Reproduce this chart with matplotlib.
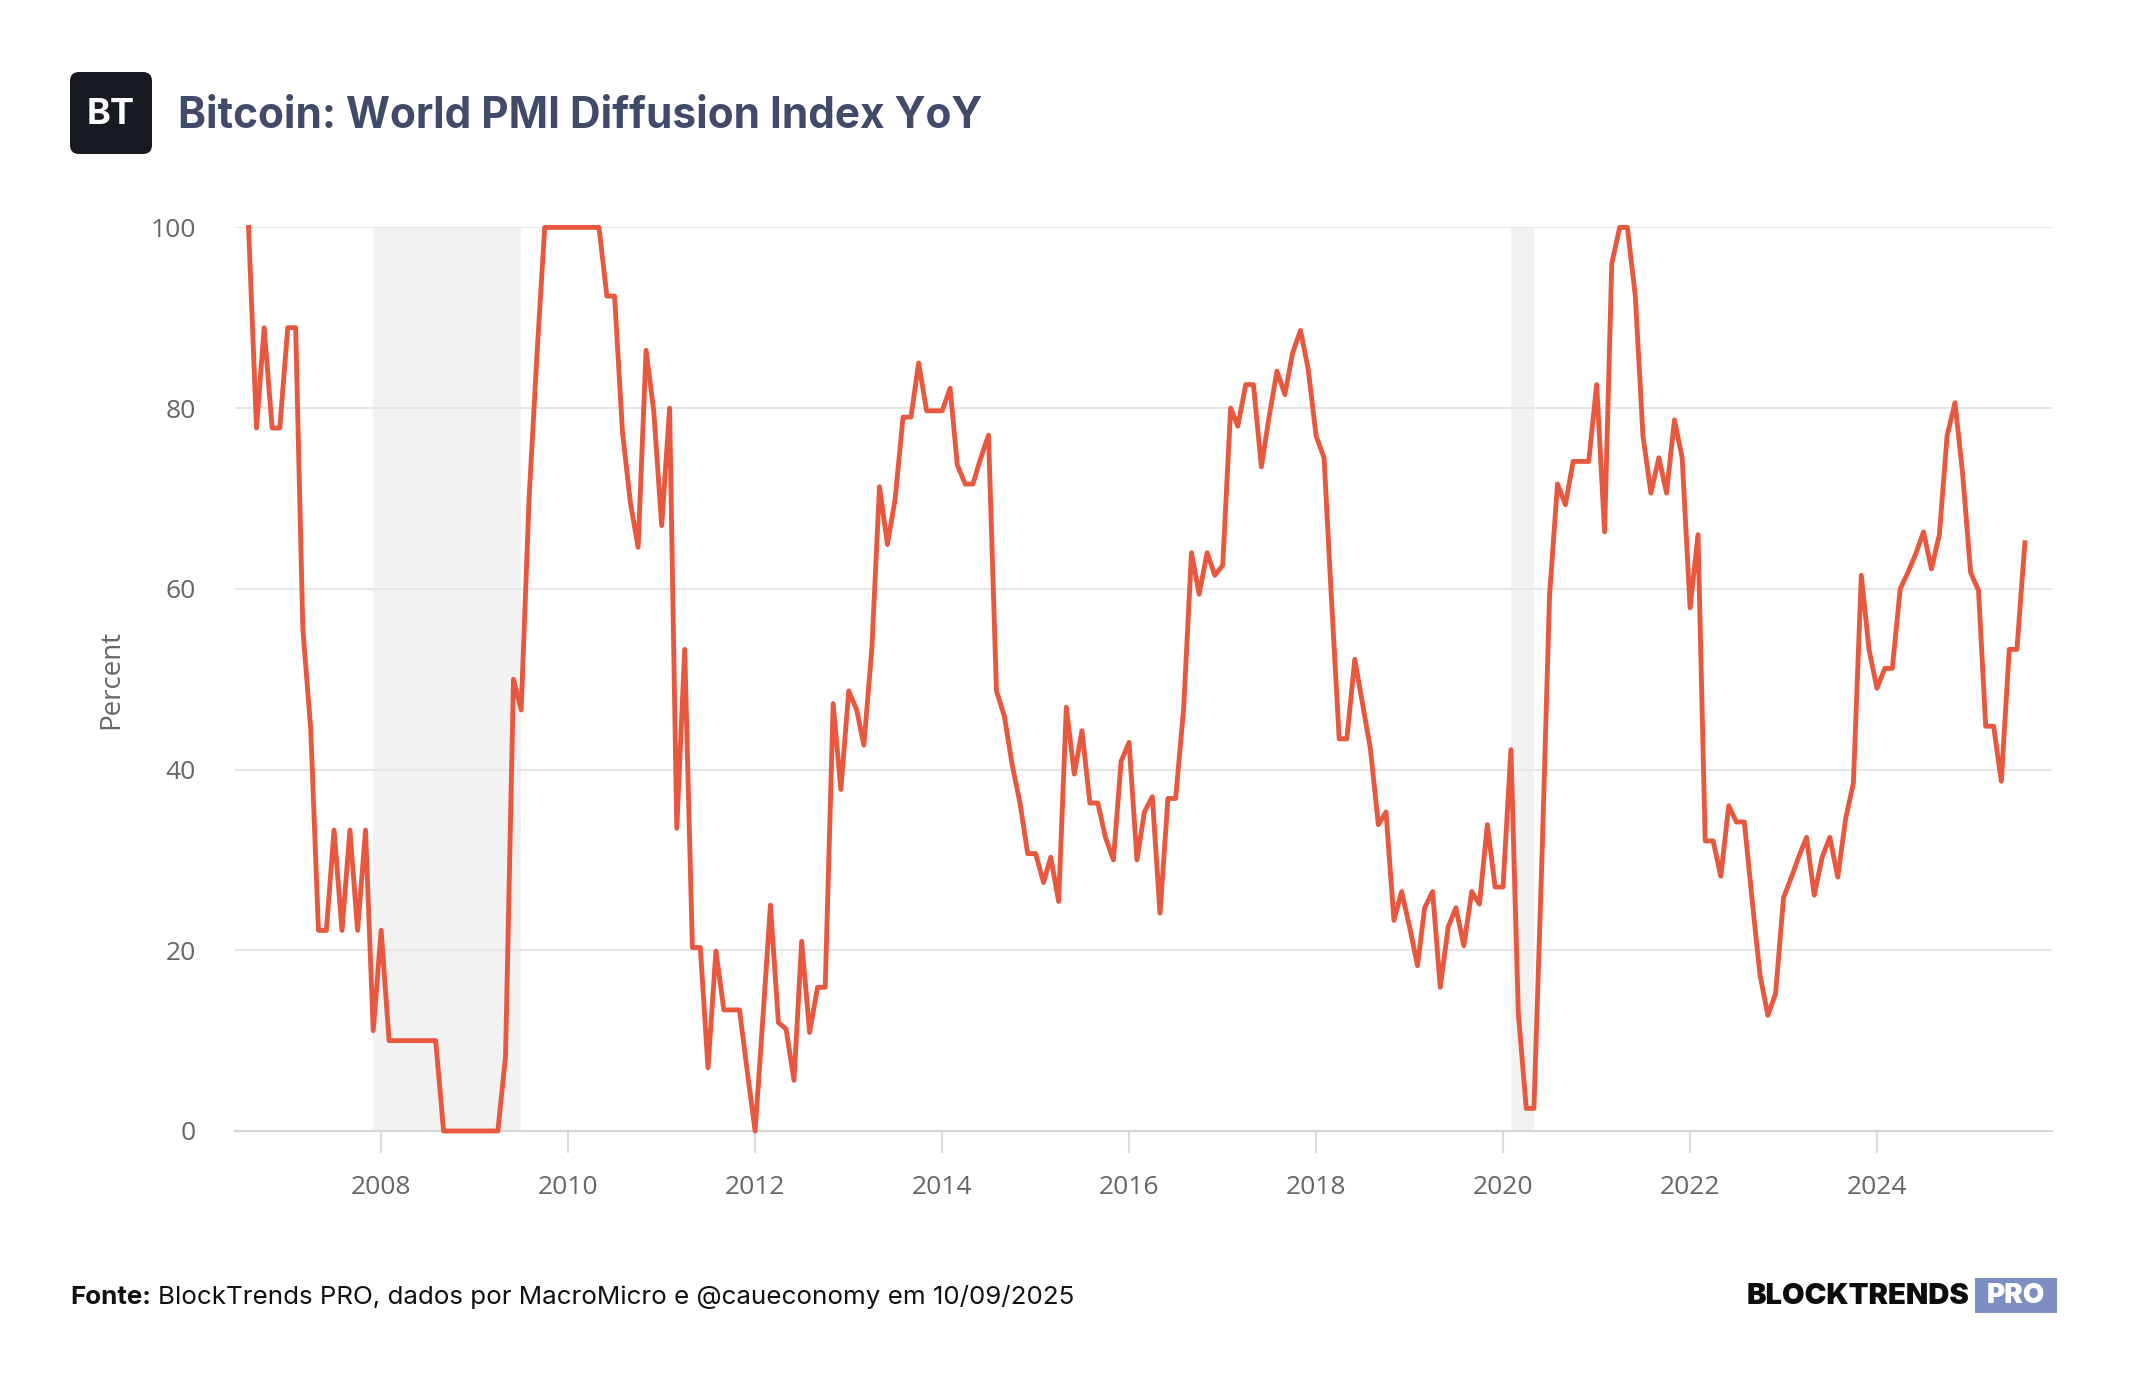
import matplotlib
matplotlib.use('Agg')
import matplotlib.pyplot as plt
import matplotlib.dates as mdates
from matplotlib.patches import FancyBboxPatch, Rectangle
import pandas as pd

# World PMI diffusion index YoY (percent), monthly from Aug 2006 to Aug 2025
start_month = '2006-08-01'
pmi_yoy = [
    100, 77.8, 88.9, 77.8, 77.8, 88.9, 88.9, 55.6, 44.4, 22.2,
    22.2, 33.3, 22.2, 33.3, 22.2, 33.3, 11.1, 22.2, 10, 10,
    10, 10, 10, 10, 10, 0, 0, 0, 0, 0,
    0, 0, 0, 8.3, 50, 46.6, 70, 86, 100, 100,
    100, 100, 100, 100, 100, 100, 92.4, 92.4, 77.3, 69.5,
    64.6, 86.4, 79.7, 67, 80, 33.5, 53.3, 20.3, 20.3, 7,
    19.9, 13.4, 13.4, 13.4, 6.7, 0, 12.7, 25, 12, 11.3,
    5.6, 21, 10.9, 15.9, 15.9, 47.3, 37.8, 48.7, 46.6, 42.7,
    53.3, 71.3, 64.9, 69.9, 79, 79, 85, 79.7, 79.7, 79.7,
    82.2, 73.7, 71.6, 71.6, 74.5, 77, 48.7, 45.9, 40.6, 36.3,
    30.7, 30.7, 27.5, 30.3, 25.4, 46.9, 39.5, 44.3, 36.3, 36.3,
    32.5, 30, 40.9, 43, 30, 35.3, 37, 24.1, 36.8, 36.8,
    46.6, 64, 59.4, 64, 61.5, 62.6, 80, 78, 82.6, 82.6,
    73.5, 79, 84.1, 81.5, 86.1, 88.6, 84.3, 76.9, 74.5, 59.3,
    43.4, 43.4, 52.2, 47.3, 42.3, 33.9, 35.3, 23.3, 26.5, 22.6,
    18.3, 24.7, 26.5, 15.9, 22.6, 24.7, 20.5, 26.5, 25.1, 33.9,
    27, 27, 42.2, 13, 2.5, 2.5, 30, 59.3, 71.6, 69.3,
    74.1, 74.1, 74.1, 82.6, 66.3, 96, 100, 100, 92.4, 76.9,
    70.6, 74.5, 70.6, 78.7, 74.5, 57.9, 66, 32.1, 32.1, 28.2,
    36, 34.2, 34.2, 25.4, 17.3, 12.8, 15.2, 25.8, 28.1, 30.3,
    32.5, 26.1, 30.3, 32.5, 28.1, 34.6, 38.5, 61.5, 53.3, 49,
    51.2, 51.2, 60, 61.8, 63.9, 66.3, 62.2, 66, 76.9, 80.6,
    72.7, 61.8, 59.8, 44.8, 44.8, 38.7, 53.3, 53.3, 65.1,
]
recessions = [('2007-12-01', '2009-07-01'), ('2020-02-01', '2020-05-01')]
year_ticks = list(range(2008, 2025, 2))
y_ticks = [0, 20, 40, 60, 80, 100]

dates = pd.date_range(start_month, periods=len(pmi_yoy), freq='MS')

W, H = 2144, 1400
fig = plt.figure(figsize=(W / 100, H / 100), dpi=100)
fig.patch.set_facecolor('white')

ax = fig.add_axes([235 / W, 1 - 1131 / H, (2052 - 235) / W, (1131 - 227.4) / H])

for a, b in recessions:
    ax.axvspan(pd.Timestamp(a), pd.Timestamp(b), color='#f2f2f2', lw=0, zorder=0)

ax.plot(dates, pmi_yoy, color='#e8583f', lw=3.5, clip_on=False, zorder=3)

ax.set_ylim(0, 100)
ax.set_xlim(pd.Timestamp('2006-06-09'), pd.Timestamp('2025-11-15'))
ax.set_yticks(y_ticks)
ax.set_xticks([pd.Timestamp(f'{y}-01-01') for y in year_ticks])
ax.xaxis.set_major_formatter(mdates.DateFormatter('%Y'))
ax.grid(axis='y', color='#e6e6e6', lw=1.5, zorder=1)
ax.set_axisbelow(True)
for s in ['top', 'right', 'left']:
    ax.spines[s].set_visible(False)
ax.spines['bottom'].set_color('#d6d6d6')
ax.spines['bottom'].set_linewidth(1.5)
ax.tick_params(axis='x', length=16, width=1.5, color='#dcdcdc', pad=16,
               labelsize=19, labelcolor='#666666')
ax.tick_params(axis='y', length=0, pad=28, labelsize=19, labelcolor='#666666')
for lab in ax.get_xticklabels() + ax.get_yticklabels():
    lab.set_family('Open Sans')
ax.set_ylabel('Percent', fontsize=20, color='#666666', family='Open Sans')
ax.yaxis.set_label_coords(-0.0605, 0.5)

# header logo
lax = fig.add_axes([70 / W, 1 - 154 / H, 82 / W, 82 / H])
lax.set_xlim(0, 82)
lax.set_ylim(0, 82)
lax.axis('off')
lax.add_patch(FancyBboxPatch((0, 0), 82, 82, boxstyle='round,pad=0,rounding_size=9',
                             fc='#181a21', ec='none'))
lax.text(41, 40, 'BT', color='white', fontsize=26, weight='bold',
         family='Inter', ha='center', va='center')

fig.text(178 / W, 1 - 117 / H, 'Bitcoin: World PMI Diffusion Index YoY',
         fontsize=30.5, weight='bold', color='#414b69', family='Inter',
         ha='left', va='center')

# footer
r = fig.canvas.get_renderer()
t1 = fig.text(70 / W, 1 - 1297 / H, 'Fonte:', fontsize=18.7, weight='bold',
              color='#111111', family='Inter', va='center')
bb = t1.get_window_extent(renderer=r)
fig.text((bb.x1 + 7) / W, 1 - 1297 / H,
         'BlockTrends PRO, dados por MacroMicro e @caueconomy em 10/09/2025',
         fontsize=18.7, color='#111111', family='Inter', va='center')

fig.text(1970 / W, 1 - 1296 / H, 'BLOCKTRENDS', fontsize=21, weight='black',
         color='#0d0d0d', family='Inter', ha='right', va='center')
fig.patches.append(Rectangle((1975 / W, 1 - 1313 / H), 82 / W, 35 / H,
                             transform=fig.transFigure, fc='#7d8fc2', ec='none'))
fig.text(2016 / W, 1 - 1296 / H, 'PRO', fontsize=20, weight='black',
         color='white', family='Inter', ha='center', va='center')

fig.savefig('out.png', dpi=100)
